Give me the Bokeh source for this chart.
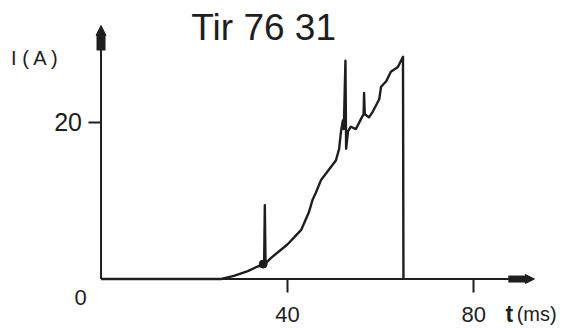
from bokeh.plotting import figure
from bokeh.models import Range1d, Arrow, NormalHead, Label, FixedTicker
from bokeh.embed import file_html
from bokeh.resources import INLINE

# ---- data ----
t_ms = [0, 25.8, 28.5, 31.5, 33.6, 35.0, 35.15, 35.3, 36.5, 40.0, 43.0, 44.6, 45.4,
        46.1, 47.2, 48.6, 50.4, 51.1, 51.5, 51.9, 52.1, 52.45, 52.6, 53.0, 53.6,
        54.7, 55.8, 56.35, 56.45, 56.6, 57.5, 58.3, 59.7, 60.1, 61.2, 62.2, 63.7,
        64.8, 64.9]
i_amp = [0, 0, 0.4, 1.0, 1.6, 1.8, 9.4, 2.0, 2.7, 4.4, 6.3, 8.5, 10.1,
         11.0, 12.6, 13.7, 15.1, 16.6, 18.8, 20.2, 19.1, 27.8, 16.6, 18.8, 19.4,
         19.1, 20.4, 21.0, 23.7, 21.0, 20.6, 21.3, 22.9, 24.5, 25.2, 26.4, 27.0,
         28.3, 0]
blob_t = [34.8]
blob_i = [1.9]

x_ticks = [40, 80]
y_ticks = [20]
title_text = "Tir 76 31"
y_label = "I ( A )"
x_label_t = "t"
x_label_unit = "(ms)"
origin_label = "0"

# axis extents (data units)
X_TIP = 93.0
Y_TIP = 32.3

INK = "#1e1e1e"
FONT = "Liberation Sans"

p = figure(width=573, height=329, output_backend="svg", toolbar_location=None,
           title=None,
           x_range=Range1d(-21.57, 101.39), y_range=Range1d(-6.43, 35.48),
           min_border=0, min_border_left=0, min_border_right=0,
           min_border_top=0, min_border_bottom=0)
p.xgrid.visible = False
p.ygrid.visible = False
p.outline_line_color = None
p.background_fill_color = "white"
p.border_fill_color = "white"

for ax in (p.xaxis[0], p.yaxis[0]):
    ax.fixed_location = 0
    ax.axis_line_color = None
    ax.major_tick_line_color = INK
    ax.major_tick_line_width = 2
    ax.major_tick_in = 0
    ax.major_tick_out = 13
    ax.minor_tick_line_color = None
    ax.major_label_text_font = FONT
    ax.major_label_text_color = INK

p.xaxis.ticker = FixedTicker(ticks=x_ticks)
p.yaxis.ticker = FixedTicker(ticks=y_ticks)
p.xaxis.major_label_text_font_size = "22px"
p.yaxis.major_label_text_font_size = "25px"
p.xaxis.major_label_standoff = 15
p.yaxis.major_label_standoff = 6

# axis lines with arrow heads
p.add_layout(Arrow(end=NormalHead(size=10, fill_color=INK, line_color=INK),
                   x_start=0, y_start=0, x_end=0, y_end=Y_TIP,
                   line_color=INK, line_width=2))
p.add_layout(Arrow(end=NormalHead(size=9, fill_color=INK, line_color=INK),
                   x_start=0, y_start=0, x_end=X_TIP, y_end=0,
                   line_color=INK, line_width=2))
p.segment(x0=[0], y0=[Y_TIP - 3.2], x1=[0], y1=[Y_TIP - 1.3],
          line_width=9, line_color=INK)
p.segment(x0=[X_TIP - 5.6], y0=[0], x1=[X_TIP - 1.8], y1=[0],
          line_width=7, line_color=INK)

# the current trace
p.line(t_ms, i_amp, line_width=2.4, line_color=INK, line_join="round")
p.scatter(blob_t, blob_i, size=8, color=INK)

# texts
p.add_layout(Label(x=34.9, y=32.0, text=title_text, text_font=FONT,
                   text_font_size="37px", text_align="center",
                   text_baseline="middle", text_color=INK))
p.add_layout(Label(x=-19.3, y=28.15, text=y_label, text_font=FONT,
                   text_font_size="20px", text_align="left",
                   text_baseline="middle", text_color=INK))
p.add_layout(Label(x=-4.4, y=-2.36, text=origin_label, text_font=FONT,
                   text_font_size="22px", text_align="center",
                   text_baseline="middle", text_color=INK))
p.add_layout(Label(x=86.8, y=-4.4, text=x_label_t, text_font=FONT,
                   text_font_size="23px", text_font_style="bold",
                   text_align="left", text_baseline="middle", text_color=INK))
p.add_layout(Label(x=89.2, y=-4.5, text=x_label_unit, text_font=FONT,
                   text_font_size="20px", text_align="left",
                   text_baseline="middle", text_color=INK))

open("out.html", "w").write(file_html(p, INLINE))
